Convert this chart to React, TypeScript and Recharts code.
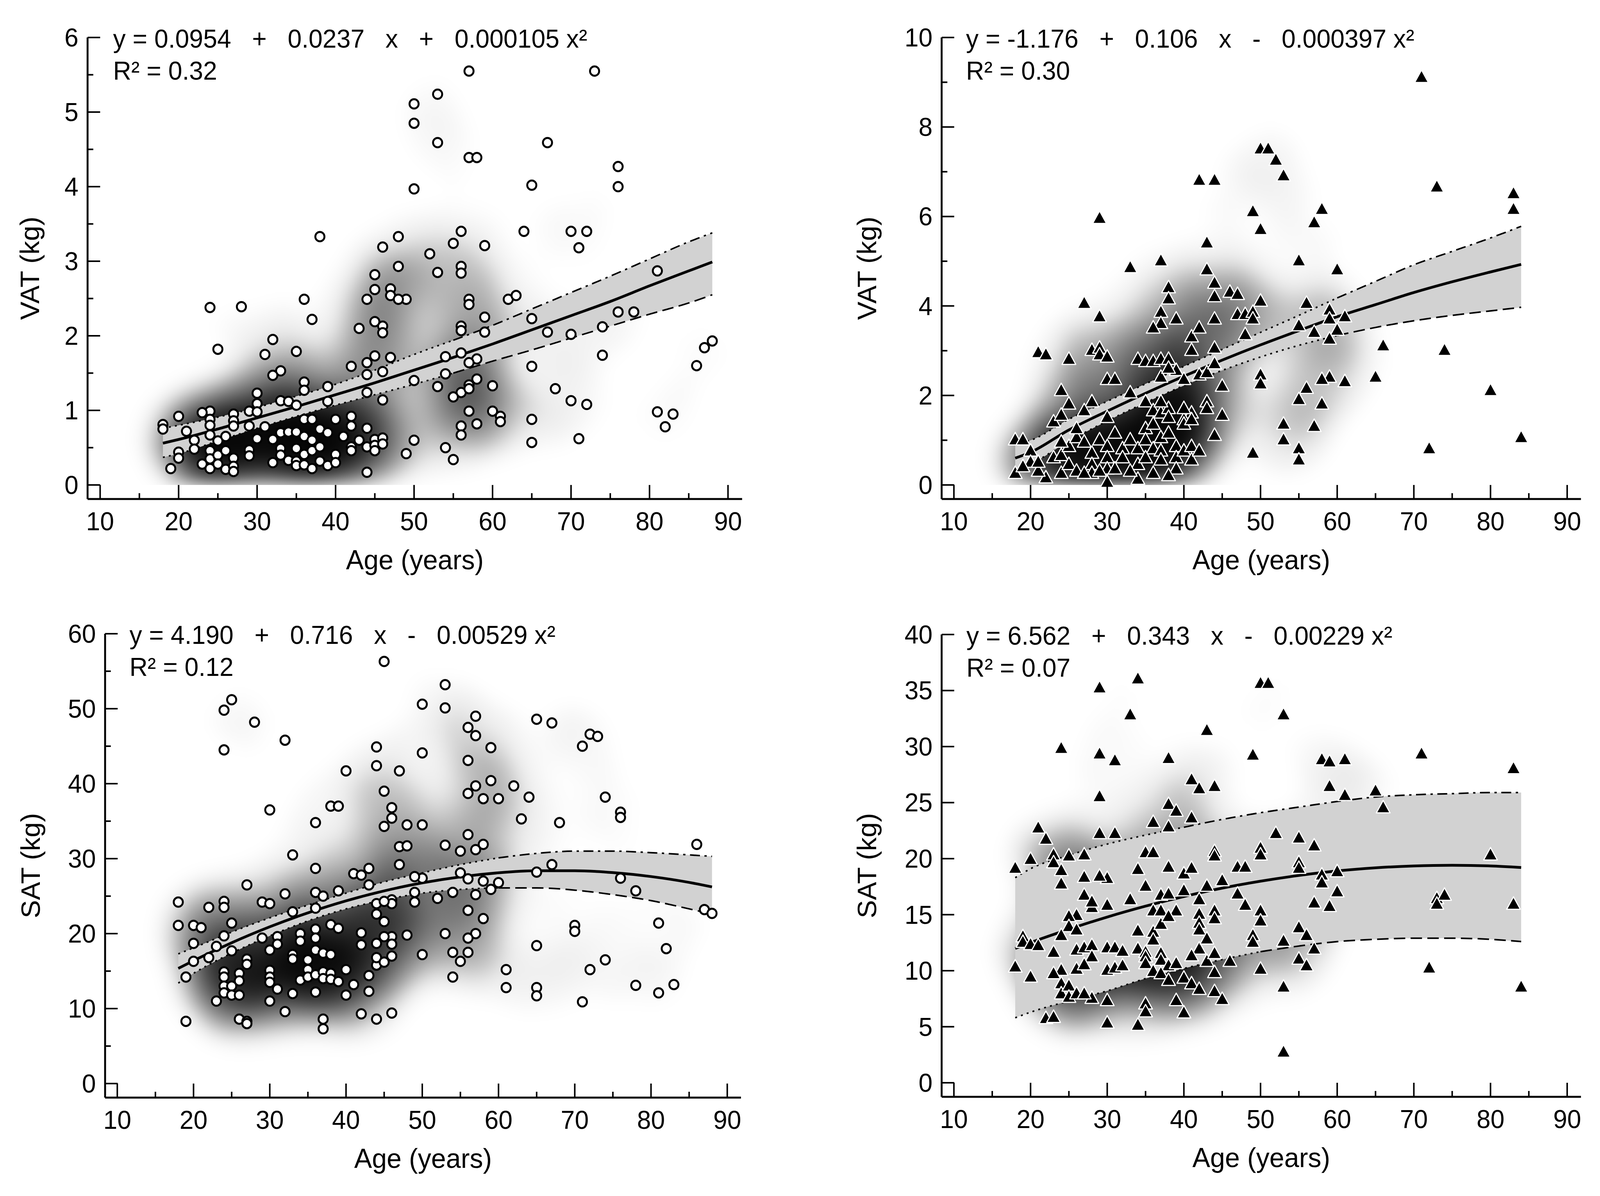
import React from 'react';
import { ComposedChart, Scatter, Line, Area, XAxis, YAxis } from 'recharts';

const FONT = "'Liberation Sans', Arial, Helvetica, sans-serif";
const W = 4202;
const H = 3063;

type Pt = [number, number];

// ---------- tick labels ----------
const xTicks = [10, 15, 20, 25, 30, 35, 40, 45, 50, 55, 60, 65, 70, 75, 80, 85, 90];
const vatMenTicks = [0, 0.5, 1, 1.5, 2, 2.5, 3, 3.5, 4, 4.5, 5, 5.5, 6];
const vatWomenTicks = [0, 1, 2, 3, 4, 5, 6, 7, 8, 9, 10];
const satMenTicks = [0, 5, 10, 15, 20, 25, 30, 35, 40, 45, 50, 55, 60];
const satWomenTicks = [0, 5, 10, 15, 20, 25, 30, 35, 40];

// ---------- fitted curves and confidence bands ----------
const agesA = [18, 20, 25, 30, 35, 40, 45, 50, 55, 60, 65, 70, 75, 80, 85, 88];
const agesB = [18, 20, 25, 30, 35, 40, 45, 50, 55, 60, 65, 70, 75, 80, 84];

const vatMenFit = [0.56, 0.61, 0.75, 0.9, 1.05, 1.21, 1.37, 1.54, 1.71, 1.89, 2.08, 2.27, 2.46, 2.67, 2.87, 2.99];
const vatMenLo = [0.37, 0.42, 0.59, 0.76, 0.92, 1.07, 1.21, 1.35, 1.5, 1.66, 1.81, 1.97, 2.13, 2.29, 2.44, 2.55];
const vatMenHi = [0.76, 0.8, 0.91, 1.04, 1.19, 1.35, 1.54, 1.75, 1.94, 2.14, 2.36, 2.58, 2.8, 3.03, 3.26, 3.38];

const vatWomenFit = [0.6, 0.73, 1.23, 1.65, 2.05, 2.43, 2.79, 3.13, 3.45, 3.76, 4.03, 4.3, 4.54, 4.76, 4.93];
const vatWomenLo = [0.3, 0.46, 0.98, 1.43, 1.84, 2.22, 2.56, 2.86, 3.12, 3.34, 3.52, 3.67, 3.79, 3.89, 3.97];
const vatWomenHi = [0.92, 1.0, 1.47, 1.87, 2.26, 2.65, 3.03, 3.41, 3.79, 4.18, 4.55, 4.92, 5.22, 5.52, 5.78];

const satMenFit = [15.36, 16.39, 18.78, 20.91, 22.77, 24.37, 25.7, 26.77, 27.57, 28.11, 28.38, 28.39, 28.14, 27.61, 26.83, 26.23];
const satMenLo = [13.4, 14.7, 17.4, 19.7, 21.7, 23.3, 24.5, 25.4, 25.9, 26.1, 26.1, 25.8, 25.2, 24.4, 23.3, 22.6];
const satMenHi = [17.3, 18.1, 20.2, 22.1, 23.8, 25.4, 26.9, 28.1, 29.2, 30.1, 30.7, 31.0, 31.0, 30.8, 30.5, 30.3];

const satWomenFit = [11.99, 12.51, 13.7, 14.79, 15.76, 16.62, 17.37, 17.99, 18.5, 18.9, 19.18, 19.35, 19.41, 19.35, 19.21];
const satWomenLo = [5.8, 6.3, 7.3, 8.2, 9.3, 10.2, 11.0, 11.7, 12.2, 12.6, 12.8, 12.9, 12.9, 12.8, 12.6];
const satWomenHi = [18.3, 19.1, 20.3, 21.3, 22.1, 22.8, 23.5, 24.1, 24.6, 25.1, 25.5, 25.7, 25.8, 25.9, 25.9];

// ---------- observations [age, kg] ----------
const vatMenPts: Pt[] = [
  [57, 5.55], [73, 5.55], [53, 5.24], [50, 5.11], [50, 4.85], [53, 4.59], [57, 4.39], [58, 4.39], [67, 4.59], [76, 4.27],
  [76, 4.0], [65, 4.02], [50, 3.97], [70, 3.4], [72, 3.4], [71, 3.18], [64, 3.4], [38, 3.33], [56, 3.4], [55, 3.24],
  [59, 3.21], [48, 3.33], [46, 3.19], [52, 3.1], [53, 2.85], [48, 2.93], [56, 2.93], [56, 2.84], [45, 2.82], [45, 2.62],
  [47, 2.63], [47, 2.54], [49, 2.49], [48, 2.49], [44, 2.49], [57, 2.49], [57, 2.42], [36, 2.49], [28, 2.39], [24, 2.38],
  [37, 2.22], [62, 2.49], [63, 2.54], [59, 2.25], [59, 2.05], [65, 2.23], [67, 2.05], [70, 2.02], [74, 2.12], [76, 2.32],
  [78, 2.32], [81, 2.87], [88, 1.93], [87, 1.84], [86, 1.6], [81, 0.98], [83, 0.95], [82, 0.78], [74, 1.74], [65, 1.59],
  [68, 1.29], [70, 1.13], [72, 1.08], [71, 0.62], [65, 0.88], [65, 0.57], [60, 1.33], [60, 0.99], [61, 0.92], [61, 0.85],
  [58, 1.69], [57, 1.64], [57, 1.34], [58, 1.42], [56, 1.24], [57, 1.29], [55, 1.18], [57, 0.99], [58, 0.82], [56, 0.79],
  [56, 0.67], [56, 1.77], [56, 2.13], [56, 2.07], [54, 1.72], [53, 1.32], [54, 1.49], [54, 0.5], [55, 0.34], [50, 0.6],
  [50, 1.4], [49, 0.42], [47, 1.71], [46, 2.13], [46, 2.04], [45, 2.19], [45, 1.73], [44, 1.64], [44, 1.48], [46, 1.52],
  [46, 1.14], [44, 1.24], [43, 2.1], [42, 1.59], [39, 1.32], [39, 1.12], [36, 1.38], [36, 1.27], [35, 1.79], [33, 1.53],
  [32, 1.47], [32, 1.95], [31, 1.75], [30, 1.23], [30, 1.09], [33, 1.13], [34, 1.12], [35, 1.07], [25, 1.82], [29, 0.99],
  [27, 0.95], [24, 0.99], [23, 0.97],
  [18, 0.81], [18, 0.75], [19, 0.22], [20, 0.92], [20, 0.44], [20, 0.36], [21, 0.72], [22, 0.6], [22, 0.48], [23, 0.28],
  [24, 0.88], [24, 0.8], [24, 0.67], [24, 0.46], [24, 0.35], [24, 0.22], [25, 0.59], [25, 0.4], [25, 0.28], [26, 0.65],
  [26, 0.46], [26, 0.21], [27, 0.86], [27, 0.79], [27, 0.36], [27, 0.25], [27, 0.18], [29, 0.79], [29, 0.47], [29, 0.39],
  [30, 0.98], [30, 0.62], [31, 0.78], [32, 0.61], [32, 0.3], [33, 0.7], [33, 0.49], [33, 0.4], [34, 0.71], [34, 0.33],
  [35, 0.71], [35, 0.49], [35, 0.32], [35, 0.26], [36, 0.88], [36, 0.65], [36, 0.41], [36, 0.27], [37, 0.88], [37, 0.6],
  [37, 0.46], [37, 0.22], [38, 0.75], [38, 0.51], [38, 0.32], [39, 0.7], [39, 0.26], [40, 0.88], [40, 0.41], [40, 0.3],
  [41, 0.65], [42, 0.92], [42, 0.79], [42, 0.51], [42, 0.46], [43, 0.6], [44, 0.76], [44, 0.51], [44, 0.17], [45, 0.61],
  [45, 0.53], [45, 0.46], [46, 0.63], [46, 0.55],
];

const vatWomenPts: Pt[] = [
  [71, 9.1], [50, 7.5], [51, 7.5], [52, 7.25], [53, 6.9], [42, 6.8], [44, 6.8], [73, 6.65], [83, 6.5], [83, 6.15],
  [57, 5.85], [58, 6.15], [49, 6.1], [50, 5.7], [29, 5.95], [43, 5.4], [60, 4.8], [55, 5.0], [33, 4.85], [37, 5.0],
  [43, 4.8], [44, 4.5], [38, 4.4], [38, 4.15], [46, 4.3], [47, 4.25], [44, 4.2], [50, 4.1], [56, 4.05], [27, 4.05],
  [47, 3.8], [48, 3.8], [49, 3.85], [49, 3.7], [59, 3.9], [59, 3.7], [61, 3.75], [39, 3.7], [37, 3.85], [37, 3.6],
  [29, 3.75], [44, 3.7], [36, 3.5], [55, 3.55], [57, 3.4], [48, 3.35], [60, 3.45], [59, 3.25], [41, 3.3], [42, 3.5],
  [41, 3.0], [44, 3.05], [66, 3.1], [74, 3.0], [21, 2.95], [22, 2.9], [25, 2.8], [28, 3.0], [29, 3.05], [29, 2.9],
  [30, 2.85], [34, 2.8], [35, 2.75], [36, 2.75], [37, 2.8], [38, 2.8], [42, 2.45], [43, 2.5], [44, 2.7], [30, 2.35],
  [31, 2.35], [39, 2.55], [40, 2.35], [37, 2.4], [38, 2.6], [50, 2.45], [50, 2.25], [65, 2.4], [61, 2.3], [59, 2.4],
  [58, 2.35], [45, 2.2], [56, 2.15], [55, 1.9], [58, 1.8], [80, 2.1], [24, 2.1], [33, 2.05], [35, 1.85], [25, 1.8],
  [28, 1.85], [43, 1.85], [43, 1.7], [45, 1.55], [41, 1.6], [27, 1.65], [30, 1.5], [23, 1.4], [24, 1.55], [53, 1.35],
  [57, 1.3], [53, 1.0], [44, 1.1], [55, 0.8], [55, 0.55], [49, 0.7], [72, 0.8], [84, 1.05], [18, 1.0], [19, 1.0],
  [18, 0.25], [22, 0.15], [30, 0.05], [34, 0.12],
  [36, 1.65], [37, 1.6], [38, 1.7], [38, 1.5], [37, 1.85], [40, 1.45], [40, 1.35], [41, 1.45], [40, 1.7], [20, 0.75],
  [20, 0.5], [21, 0.3], [23, 0.6], [24, 0.65], [24, 0.25], [25, 0.85], [26, 1.05], [26, 1.25], [27, 0.95], [28, 0.7],
  [28, 0.45], [28, 0.25], [25, 0.45], [26, 0.3], [29, 1.0], [30, 0.85], [30, 0.6], [30, 0.35], [31, 1.15], [32, 0.8],
  [32, 0.6], [33, 1.0], [34, 0.8], [34, 0.45], [35, 1.25], [35, 1.0], [36, 0.8], [35, 0.6], [36, 1.35], [37, 1.05],
  [37, 0.75], [37, 0.55], [38, 1.15], [39, 0.85], [39, 0.6], [39, 0.35], [40, 0.75], [41, 0.55], [41, 0.85], [42, 0.75],
  [21, 0.5], [19, 0.4], [24, 0.95], [27, 0.25], [29, 0.3], [31, 0.35], [33, 0.3], [36, 0.25], [38, 0.2],
];

const satMenPts: Pt[] = [
  [45, 56.3], [53, 53.2], [53, 50.1], [50, 50.6], [25, 51.2], [24, 49.8], [28, 48.2], [24, 44.5], [32, 45.8], [57, 49],
  [56, 47.5], [57, 46.4], [59, 44.8], [56, 43.1], [65, 48.6], [67, 48.1], [71, 45], [72, 46.6], [73, 46.3], [44, 44.9],
  [44, 42.4], [47, 41.7], [40, 41.7], [45, 39], [50, 44.1], [59, 40.4], [57, 39.7], [56, 38.7], [58, 38], [60, 38],
  [62, 39.7], [64, 38.2], [74, 38.2], [76, 36.2], [76, 35.5], [68, 34.8], [63, 35.3], [46, 36.8], [46, 35.4], [38, 37],
  [39, 37], [30, 36.5], [36, 34.8], [45, 34.3], [48, 34.5], [50, 34.5], [33, 30.5], [56, 33.2], [53, 31.8], [55, 31],
  [57, 31.2], [58, 31.9], [47, 31.6], [48, 31.7], [47, 29.2], [86, 31.9], [67, 29.2], [36, 28.7], [41, 28], [42, 27.8],
  [43, 28.7], [27, 26.5], [43, 26.5], [50, 27.4], [55, 28.1], [56, 27.3], [58, 27], [60, 26.8], [65, 28.2], [76, 27.4],
  [59, 25.9], [57, 25.2], [52, 24.7], [54, 25.5], [78, 25.7], [49, 24.2], [49, 25.5], [46, 24.5], [46, 24], [44, 24],
  [44, 22.6], [45, 21.6], [87, 23.2], [88, 22.7], [56, 23.1], [58, 22], [57, 20], [56, 19.4], [53, 20], [48, 19.8],
  [46, 19.6], [46, 18.6], [44, 18.7], [42, 20.1], [42, 18.5], [70, 21.1], [70, 20.3], [81, 21.4], [82, 18], [65, 18.4],
  [56, 17.5], [54, 17.5], [50, 17.2], [46, 17], [55, 16.3], [74, 16.5], [72, 15.2], [44, 15.8], [61, 15.2], [54, 14.2],
  [61, 12.8], [65, 12.8], [65, 11.7], [78, 13.1], [83, 13.2], [81, 12.1], [71, 10.9], [46, 9.4], [44, 8.6], [42, 9.3],
  [32, 9.6], [19, 8.3], [37, 8.6], [37, 7.3], [26, 8.6], [27, 8.3], [27, 8.0], [18, 24.2], [18, 21.1], [20, 21.1],
  [21, 20.8], [20, 18.7], [19, 14.2], [22, 23.5], [24, 24.3], [24, 23.5], [25, 21.4], [24, 19.7], [23, 18.3], [22, 16.8],
  [20, 16.3], [29, 24.2], [30, 24], [32, 25.3], [33, 22.9], [36, 25.5], [37, 25], [39, 25.7], [36, 23.4],
  [25, 17.7], [27, 16.6], [27, 15.9], [24, 14.9], [26, 14.7], [24, 14.2], [26, 13.7], [24, 13], [25, 13], [24, 12.1],
  [25, 11.8], [26, 11.8], [23, 11], [29, 19.4], [30, 17.8], [31, 19.6], [31, 18.6], [30, 15.1], [30, 14.2], [30, 13.5],
  [31, 12.6], [30, 11], [33, 12], [34, 20], [34, 19], [34, 13.8], [33, 17.2], [33, 16.6], [35, 16.5], [36, 20.6],
  [36, 19.4], [36, 17.8], [36, 12.2], [35, 15.2], [35, 14.2], [37, 17.4], [38, 17.2], [36, 14.5], [37, 14.9], [37, 14],
  [38, 14.7], [38, 13.9], [38, 21.2], [39, 20.7], [39, 13.6], [40, 15.2], [41, 13.2], [40, 11.8], [43, 14.4], [43, 12.3],
  [45, 19.6], [44, 16.8], [45, 16.2], [45, 24.3], [49, 27.6],
];

const satWomenPts: Pt[] = [
  [34, 36], [29, 35.2], [50, 35.6], [51, 35.6], [33, 32.8], [53, 32.8], [43, 31.4], [24, 29.8], [29, 29.3], [31, 28.7],
  [49, 29.2], [38, 28.9], [71, 29.3], [58, 28.8], [59, 28.6], [61, 28.8], [83, 28], [41, 27], [42, 26.2], [44, 26.4],
  [29, 25.5], [59, 26.4], [61, 25.6], [65, 26], [66, 24.5], [38, 24.8], [39, 24.2], [41, 23.6], [36, 23.2], [38, 22.8],
  [21, 22.7], [22, 21.7], [29, 22.2], [31, 22.2], [52, 22.2], [55, 21.8], [57, 21.1], [44, 20.6], [44, 20.2], [35, 20.5],
  [36, 20.5], [23, 20.3], [23, 19.6], [25, 20.2], [20, 19.9], [27, 20.3], [18, 19.1], [50, 20.9], [50, 20.3], [55, 19.6],
  [55, 19.1], [47, 19.2], [48, 19.2], [80, 20.3], [38, 19.2], [40, 18.6], [41, 19.1], [24, 18.9], [24, 17.7], [27, 18.3],
  [30, 18.2], [29, 18.4], [58, 18.5], [58, 17.8], [60, 18.8], [45, 18], [43, 17.5], [33, 16.3], [35, 17.5], [47, 16.8],
  [48, 15.8], [60, 17], [57, 16], [59, 15.7], [73, 16.4], [74, 16.7], [73, 15.9], [83, 15.9], [50, 15.3], [50, 14.4],
  [30, 15.8], [28, 15.6], [26, 14.9], [25, 14.8], [34, 13.5], [55, 13.8], [56, 13.1], [49, 13.1], [49, 12.5], [53, 12.6],
  [57, 11.9], [72, 10.2], [50, 10.1], [46, 10.8], [55, 11], [56, 10.4], [53, 8.5], [53, 2.7], [84, 8.5], [18, 10.3],
  [20, 9.4], [19, 13], [19, 12.5], [20, 12.3], [21, 12.2], [30, 5.3], [34, 5.1], [22, 5.7], [23, 5.8], [30, 7.3],
  [35, 7], [35, 6.3], [39, 7.3], [40, 6.2], [44, 8.1], [45, 7.4], [28, 7.5],
  [34, 19], [27, 16.7], [28, 16.1], [37, 16.7], [38, 16.8], [40, 17.1], [36, 15.3], [37, 15.3], [39, 15.3], [42, 16.3],
  [42, 15], [42, 14.2], [42, 13.6], [44, 15.3], [44, 14.6], [25, 13.9], [26, 13.6], [24, 13.1], [36, 13.4], [36, 12.7],
  [37, 14.1], [38, 14.8], [42, 11.9], [43, 12.8], [23, 11.6], [26, 11.8], [27, 12], [28, 12.2], [28, 11.2], [26, 10.1],
  [27, 10.5], [30, 12], [31, 12], [32, 11.7], [30, 10], [31, 10.2], [32, 10.4], [34, 11.9], [35, 11.6], [35, 11.2],
  [35, 10.6], [36, 9.9], [37, 11.5], [37, 10.9], [38, 10.4], [39, 10.6], [37, 9.7], [38, 9.1], [40, 9.3], [41, 8.8],
  [42, 8.3], [41, 11.3], [43, 10.8], [44, 9.8], [44, 11.5], [24, 10], [24, 8.8], [24, 7.9], [25, 8.6], [25, 7.6],
  [26, 7.9], [27, 7.9], [23, 9.7],
];

// ---------- helpers ----------
const toPts = (a: Pt[]) => a.map(([age, v]) => ({ age, v }));
const toCurve = (ages: number[], fit: number[], lo: number[], hi: number[]) =>
  ages.map((age, i) => ({ age, fit: fit[i], lo: lo[i], hi: hi[i], band: [lo[i], hi[i]] }));

const XTick = (props: any) => {
  const { x, y, payload } = props;
  const v = payload.value;
  const major = Math.abs(v % 10) < 1e-6;
  return (
    <g>
      <line x1={x} x2={x} y1={y} y2={y - (major ? 36 : 15)} stroke="#000" strokeWidth={4} />
      {major && (
        <text x={x} y={y + 80} textAnchor="middle" fontSize={66} fontFamily={FONT} fill="#000">
          {v}
        </text>
      )}
    </g>
  );
};

const makeYTick = (step: number) => (props: any) => {
  const { x, y, payload } = props;
  const v = payload.value;
  const major = Math.abs(v / step - Math.round(v / step)) < 1e-6;
  return (
    <g>
      <line x1={x} x2={x + (major ? 33 : 15)} y1={y} y2={y} stroke="#000" strokeWidth={4} />
      {major && (
        <text x={x - 24} y={y + 23} textAnchor="end" fontSize={66} fontFamily={FONT} fill="#000">
          {v}
        </text>
      )}
    </g>
  );
};

const densShape = (p: any) => <circle cx={p.cx} cy={p.cy} r={110} fill="#000" fillOpacity={0.045} />;
const circleShape = (p: any) => <circle cx={p.cx} cy={p.cy} r={12} fill="#fff" stroke="#000" strokeWidth={5} />;
const triShape = (p: any) => (
  <path
    d={`M${p.cx},${p.cy - 20} L${p.cx + 18},${p.cy + 12} L${p.cx - 18},${p.cy + 12} Z`}
    fill="#000"
    stroke="#fff"
    strokeWidth={3}
    strokeLinejoin="round"
  />
);

type PanelProps = {
  left: number; top: number; width: number; height: number;
  margin: { top: number; right: number; bottom: number; left: number };
  yDomain: [number, number]; yTicks: number[]; yStep: number; yLabel: string; yLabelOffset: number;
  pts: Pt[]; curve: any[]; marker: (p: any) => React.ReactElement; densClass: string;
  splitHi: number; splitLo: number;
};

const DOT = '5 11';
const DASH_DOT = '26 12 6 12';
const LONG_DASH = '30 14';

function Panel(props: PanelProps) {
  const { left, top, width, height, margin, yDomain, yTicks, yStep, yLabel, yLabelOffset, pts, curve, marker, densClass, splitHi, splitLo } = props;
  const data = toPts(pts);
  const common = { type: 'monotone' as const, stroke: '#000', strokeWidth: 4, dot: false, activeDot: false, isAnimationActive: false, zIndex: 400 };
  return (
    <div style={{ position: 'absolute', left, top, width, height }}>
      <ComposedChart width={width} height={height} data={curve} margin={margin}>
        <XAxis
          type="number"
          dataKey="age"
          domain={[8.4, 91.8]}
          allowDataOverflow
          ticks={xTicks}
          interval={0}
          tickSize={0}
          tickMargin={0}
          tickLine={false}
          axisLine={{ stroke: '#000', strokeWidth: 5 }}
          tick={XTick}
          height={150}
          label={{ value: 'Age (years)', position: 'bottom', offset: -20, fontSize: 70, fontFamily: FONT, fill: '#000' }}
        />
        <YAxis
          type="number"
          domain={yDomain}
          allowDataOverflow
          ticks={yTicks}
          interval={0}
          tickSize={0}
          tickMargin={0}
          tickLine={false}
          axisLine={{ stroke: '#000', strokeWidth: 5 }}
          tick={makeYTick(yStep)}
          width={150}
          label={{
            value: yLabel,
            angle: -90,
            position: 'left',
            offset: yLabelOffset,
            fontSize: 70,
            fontFamily: FONT,
            fill: '#000',
            style: { textAnchor: 'middle' },
          }}
        />
        <Scatter data={data} dataKey="v" className={densClass} shape={densShape} isAnimationActive={false} zIndex={50} />
        <Area
          dataKey="band"
          type="monotone"
          stroke="none"
          fill="#d2d2d2"
          fillOpacity={1}
          isAnimationActive={false}
          zIndex={100}
          dot={false}
          activeDot={false}
        />
        <Line {...common} dataKey={(d: any) => (d.age <= splitLo ? d.lo : null)} strokeDasharray={DOT} />
        <Line {...common} dataKey={(d: any) => (d.age >= splitLo ? d.lo : null)} strokeDasharray={LONG_DASH} />
        <Line {...common} dataKey={(d: any) => (d.age <= splitHi ? d.hi : null)} strokeDasharray={DOT} />
        <Line {...common} dataKey={(d: any) => (d.age >= splitHi ? d.hi : null)} strokeDasharray={DASH_DOT} />
        <Line dataKey="fit" type="monotone" stroke="#000" strokeWidth={7} dot={false} activeDot={false} isAnimationActive={false} zIndex={410} />
        <Scatter data={data} dataKey="v" shape={marker} isAnimationActive={false} zIndex={600} />
      </ComposedChart>
    </div>
  );
}

const eqStyle: React.CSSProperties = { whiteSpace: 'pre' };

const DensFilter = ({ id, bottom }: { id: string; bottom: number }) => (
  <filter id={id} filterUnits="userSpaceOnUse" x={-300} y={-300} width={2800} height={bottom + 300} colorInterpolationFilters="sRGB">
    <feGaussianBlur stdDeviation={40} />
    <feComponentTransfer>
      <feFuncA type="table" tableValues="0 0 0.08 0.33 0.55 0.78 0.95 1 1 1 1" />
    </feComponentTransfer>
    <feGaussianBlur stdDeviation={18} />
  </filter>
);

export default function App() {
  const vw = typeof window !== 'undefined' && window.innerWidth ? window.innerWidth : W;
  const vh = typeof window !== 'undefined' && window.innerHeight ? window.innerHeight : H;
  const sx = vw / W;
  const sy = vh / H;
  return (
    <div style={{ position: 'fixed', left: 0, top: 0, width: vw, height: vh, overflow: 'hidden', background: '#fff' }}>
      <style>{`html, body { margin: 0; padding: 0; overflow: hidden; background: #fff; } .densTop { filter: url(#densTop); } .densBottom { filter: url(#densBottom); }`}</style>
      <svg width={0} height={0} style={{ position: 'absolute' }}>
        <defs>
          <DensFilter id="densTop" bottom={1242} />
          <DensFilter id="densBottom" bottom={1900} />
        </defs>
      </svg>
      <div style={{ position: 'absolute', left: 0, top: 0, width: W, height: H, transform: `scale(${sx}, ${sy})`, transformOrigin: '0 0' }}>
        <Panel
          left={0} top={0} width={2100} height={1530}
          margin={{ top: 96, right: 151, bottom: 102, left: 80 }}
          yDomain={[-0.1885, 6]} yTicks={vatMenTicks} yStep={1} yLabel="VAT (kg)" yLabelOffset={2}
          pts={vatMenPts} curve={toCurve(agesA, vatMenFit, vatMenLo, vatMenHi)} marker={circleShape} densClass="densTop"
          splitHi={55} splitLo={55}
        />
        <Panel
          left={2100} top={0} width={2102} height={1530}
          margin={{ top: 96, right: 50, bottom: 102, left: 223 }}
          yDomain={[-0.314, 10]} yTicks={vatWomenTicks} yStep={2} yLabel="VAT (kg)" yLabelOffset={47}
          pts={vatWomenPts} curve={toCurve(agesB, vatWomenFit, vatWomenLo, vatWomenHi)} marker={triShape} densClass="densTop"
          splitHi={60} splitLo={60}
        />
        <Panel
          left={0} top={1530} width={2100} height={1533}
          margin={{ top: 93, right: 154, bottom: 102, left: 126 }}
          yDomain={[-1.875, 60]} yTicks={satMenTicks} yStep={10} yLabel="SAT (kg)" yLabelOffset={46}
          pts={satMenPts} curve={toCurve(agesA, satMenFit, satMenLo, satMenHi)} marker={circleShape} densClass="densBottom"
          splitHi={60} splitLo={60}
        />
        <Panel
          left={2100} top={1530} width={2102} height={1533}
          margin={{ top: 95, right: 50, bottom: 104, left: 223 }}
          yDomain={[-1.254, 40]} yTicks={satWomenTicks} yStep={5} yLabel="SAT (kg)" yLabelOffset={47}
          pts={satWomenPts} curve={toCurve(agesB, satWomenFit, satWomenLo, satWomenHi)} marker={triShape} densClass="densBottom"
          splitHi={40} splitLo={50}
        />
        <svg width={W} height={H} style={{ position: 'absolute', left: 0, top: 0, pointerEvents: 'none' }}>
          <g fontFamily={FONT} fontSize={66} fill="#000">
            <text x={297} y={122} style={eqStyle}>{'y = 0.0954   +   0.0237   x   +   0.000105 x²'}</text>
            <text x={297} y={204} style={eqStyle}>{'R² = 0.32'}</text>
            <text x={2537} y={122} style={eqStyle}>{'y = -1.176   +   0.106   x   -   0.000397 x²'}</text>
            <text x={2537} y={204} style={eqStyle}>{'R² = 0.30'}</text>
            <text x={340} y={1649} style={eqStyle}>{'y = 4.190   +   0.716   x   -   0.00529 x²'}</text>
            <text x={340} y={1731} style={eqStyle}>{'R² = 0.12'}</text>
            <text x={2538} y={1651} style={eqStyle}>{'y = 6.562   +   0.343   x   -   0.00229 x²'}</text>
            <text x={2538} y={1733} style={eqStyle}>{'R² = 0.07'}</text>
          </g>
        </svg>
      </div>
    </div>
  );
}
